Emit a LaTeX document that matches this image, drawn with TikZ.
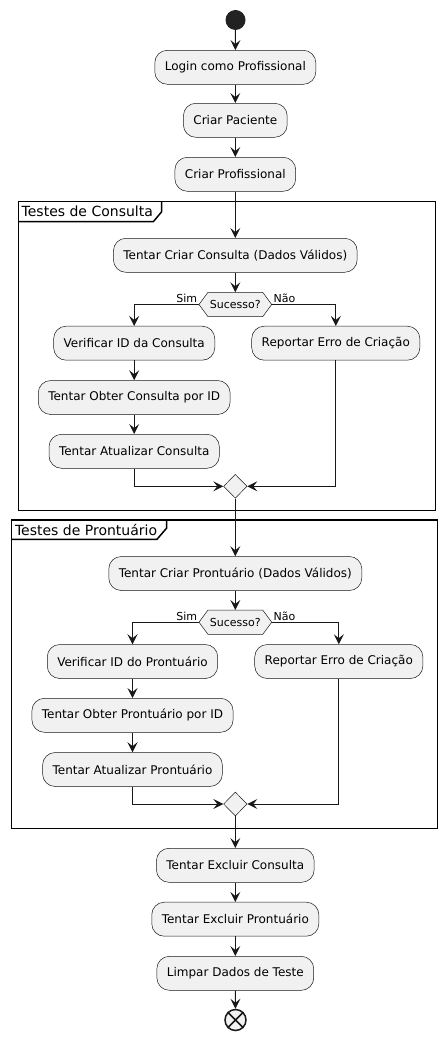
\documentclass[tikz,border=0pt]{standalone}
\usepackage{fontspec}
\setmainfont{DejaVu Sans}
\usetikzlibrary{arrows.meta,shapes.geometric}
\definecolor{boxfill}{HTML}{F1F1F1}
\definecolor{linec}{HTML}{181818}
\definecolor{startc}{HTML}{222222}
\begin{document}
\begin{tikzpicture}[x=1pt,y=-1pt,
 act/.style={draw=linec, line width=0.5pt, fill=boxfill, rounded corners=12.5pt, minimum height=34pt, inner xsep=10pt, inner ysep=0pt, font=\fontsize{12}{14}\selectfont, text=black},
 flow/.style={draw=linec, line width=1pt, -{Stealth[length=10pt,width=10pt,inset=4pt]}},
 merge/.style={diamond, draw=linec, line width=0.5pt, fill=boxfill, minimum width=23.5pt, minimum height=24pt, inner sep=0pt},
 hexa/.style={draw=linec, line width=0.5pt, fill=boxfill},
 small/.style={font=\fontsize{11}{13}\selectfont, inner sep=0pt, text=black},
 frm/.style={draw=black, line width=1.5pt},
 frmlabel/.style={font=\fontsize{14}{16}\selectfont, anchor=west, inner sep=0pt, text=black}]
\useasboundingbox (0,0) rectangle (447,1040);

% frames
\draw[frm] (18.3,201.7) rectangle (435.7,510.7);
\draw[frm] (18.3,221.7) -- (153.3,221.7) -- (161.7,211.7) -- (161.7,201.7);
\node[frmlabel] (f1lab) at (21.5,211.5) {Testes de Consulta};
\draw[frm] (11.7,520) rectangle (437.7,828.3);
\draw[frm] (11.7,539.3) -- (157,539.3) -- (166.7,528) -- (166.7,520);
\node[frmlabel] (f2lab) at (14.8,529.5) {Testes de Prontuário};

% start
\node[circle, fill=startc, minimum size=20pt, inner sep=0pt] (start) at (235.5,20) {};
\node[act] (login) at (235.3,67.3) {Login como Profissional};
\node[act] (pac) at (235.3,120.3) {Criar Paciente};
\node[act] (prof) at (235.3,174.3) {Criar Profissional};

% Consulta block
\node[act] (cc) at (235.3,255.3) {Tentar Criar Consulta (Dados Válidos)};
\coordinate (h1n) at (235.3,292.3);
\coordinate (h1w) at (199,304.5);
\coordinate (h1e) at (271.7,304.5);
\draw[hexa] (h1w) -- (208,292.3) -- (262.7,292.3) -- (h1e) -- (262.7,316.7) -- (208,316.7) -- cycle;
\node[small] (h1) at (235.3,304.5) {Sucesso?};
\node[small, anchor=base east] (sim1) at (197.3,302.3) {Sim};
\node[small, anchor=base west] (nao1) at (273.5,302.3) {Não};
\node[act] (ver1) at (134.2,343.2) {Verificar ID da Consulta};
\node[act] (rep1) at (335.8,343.2) {Reportar Erro de Criação};
\node[act] (obt1) at (134.2,397.5) {Tentar Obter Consulta por ID};
\node[act] (atu1) at (134.2,451.3) {Tentar Atualizar Consulta};
\node[merge] (m1) at (235.3,486.3) {};

% Prontuario block
\node[act] (cp) at (235.3,573.5) {Tentar Criar Prontuário (Dados Válidos)};
\coordinate (h2n) at (235.3,610);
\coordinate (h2w) at (199,622.2);
\coordinate (h2e) at (271.7,622.2);
\draw[hexa] (h2w) -- (208,610) -- (262.7,610) -- (h2e) -- (262.7,634.4) -- (208,634.4) -- cycle;
\node[small] (h2) at (235.3,622.2) {Sucesso?};
\node[small, anchor=base east] (sim2) at (197.3,620) {Sim};
\node[small, anchor=base west] (nao2) at (273.5,620) {Não};
\node[act] (ver2) at (132.5,661.5) {Verificar ID do Prontuário};
\node[act] (rep2) at (338.8,661.5) {Reportar Erro de Criação};
\node[act] (obt2) at (132.5,715.3) {Tentar Obter Prontuário por ID};
\node[act] (atu2) at (132.5,769.5) {Tentar Atualizar Prontuário};
\node[merge] (m2) at (235.3,804) {};

% tail
\node[act] (exc) at (235.3,865.3) {Tentar Excluir Consulta};
\node[act] (exp) at (235.3,919.2) {Tentar Excluir Prontuário};
\node[act] (lim) at (235.3,973.3) {Limpar Dados de Teste};
\node[circle, draw=linec, line width=1.5pt, fill=boxfill, minimum size=21pt, inner sep=0pt] (stop) at (235.5,1020) {};
\draw[draw=linec, line width=1.5pt] (stop.north west) -- (stop.south east) (stop.north east) -- (stop.south west);

% connectors
\draw[flow] (start) -- (login);
\draw[flow] (login) -- (pac);
\draw[flow] (pac) -- (prof);
\draw[flow] (prof) -- (cc);
\draw[flow] (cc) -- (h1n);
\draw[flow] (h1w) -| (ver1.north);
\draw[flow] (h1e) -| (rep1.north);
\draw[flow] (ver1) -- (obt1);
\draw[flow] (obt1) -- (atu1);
\draw[flow] (atu1.south) |- (m1.west);
\draw[flow] (rep1.south) |- (m1.east);
\draw[flow] (m1) -- (cp);
\draw[flow] (cp) -- (h2n);
\draw[flow] (h2w) -| (ver2.north);
\draw[flow] (h2e) -| (rep2.north);
\draw[flow] (ver2) -- (obt2);
\draw[flow] (obt2) -- (atu2);
\draw[flow] (atu2.south) |- (m2.west);
\draw[flow] (rep2.south) |- (m2.east);
\draw[flow] (m2) -- (exc);
\draw[flow] (exc) -- (exp);
\draw[flow] (exp) -- (lim);
\draw[flow] (lim) -- (stop);
\end{tikzpicture}
\end{document}
